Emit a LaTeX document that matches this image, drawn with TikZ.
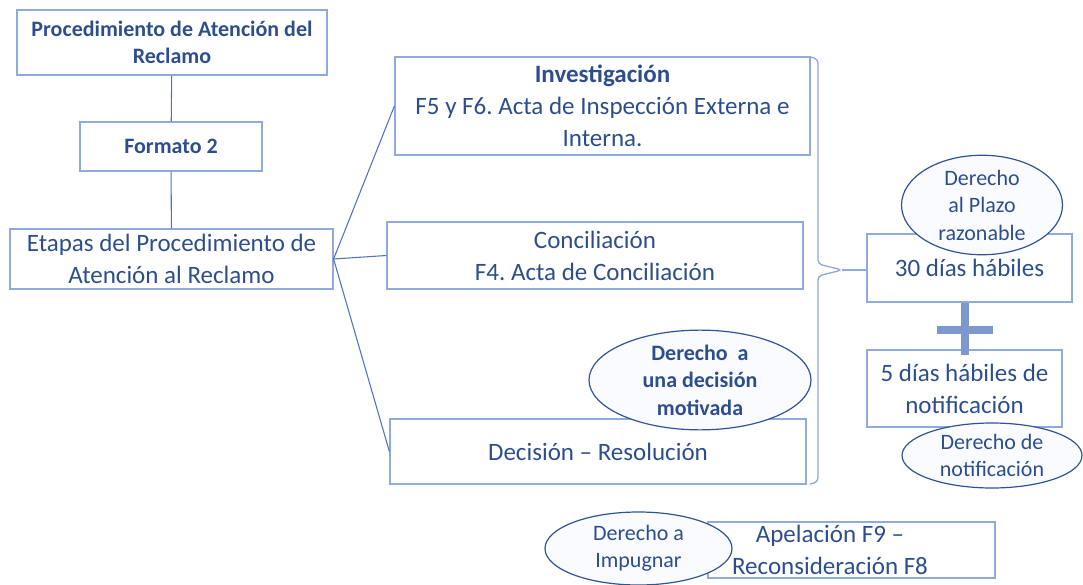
\documentclass[tikz,border=0pt]{standalone}
\usepackage{fontspec}
\setmainfont{Carlito}
\usetikzlibrary{shapes.geometric}
\definecolor{txtblue}{RGB}{45,78,142}
\definecolor{boxblue}{RGB}{143,170,220}
\definecolor{lineblue}{RGB}{80,115,190}
\definecolor{ellblue}{RGB}{47,84,150}
\definecolor{ellfill}{RGB}{250,251,254}
\definecolor{plusblue}{RGB}{125,152,204}
\tikzset{
  box/.style={draw=boxblue, line width=0.9pt, rectangle, inner sep=0pt, align=center, text=txtblue, font=\bigtxt},
  smallbold/.style={font=\smtxt\bfseries},
  ell/.style={draw=ellblue, line width=0.9pt, fill=ellfill, ellipse, inner sep=0pt, align=center, text=txtblue, font=\smtxt},
  conn/.style={draw=lineblue, line width=0.8pt},
  bracestyle/.style={draw=boxblue, line width=1pt, rounded corners=3pt},
}
\newcommand{\bigtxt}{\fontsize{18.75}{24}\selectfont}
\newcommand{\smtxt}{\fontsize{16.5}{20.6}\selectfont}
\frenchspacing
\begin{document}
\begin{tikzpicture}[x=0.75pt,y=-0.75pt]
\useasboundingbox (0,0) rectangle (1083,585);
% boxes
\node[box, smallbold, minimum width=232.5pt, minimum height=48.75pt] (b1) at (172,42.5) {Procedimiento de Atención del\\Reclamo};
\node[box, smallbold, minimum width=136.5pt, minimum height=36.75pt] (f2) at (171,146.5) {Formato 2};
\node[box, minimum width=242.25pt, minimum height=45pt] (et) at (171.5,259) {Etapas del Procedimiento de\\Atención al Reclamo};
\node[box, minimum width=311.25pt, minimum height=73.5pt] (inv) at (602.5,106) {\textbf{Investigación}\\F5 y F6. Acta de Inspección Externa e\\Interna.};
\node[box, minimum width=312pt, minimum height=50.25pt] (con) at (595,255.5) {Conciliación\\F4. Acta de Conciliación};
\node[box, minimum width=312pt, minimum height=48.75pt] (dec) at (598,451.5) {Decisión -- Resolución};
\node[box, minimum width=153.75pt, minimum height=51pt] (d30) at (969.5,268) {30 días hábiles};
\node[box, minimum width=146.25pt, minimum height=57.75pt] (d5) at (964.5,388.5) {5 días hábiles de\\notificación};
\node[box, minimum width=215.25pt, minimum height=42pt] (apel) at (851.5,550) {};
% connectors
\draw[conn] (b1) -- (f2);
\draw[conn] (f2) -- (et);
\draw[conn] (et.east) -- (inv.west);
\draw[conn] (et.east) -- (con.west);
\draw[conn] (et.east) -- (dec.west);
% brace
\coordinate (btop) at (810,57);
\coordinate (bbot) at (810,484);
\coordinate (tip) at (842,270);
\draw[bracestyle] (btop) -- (818,59) -- (818,264) -- (tip) -- (818,276) -- (818,482) -- (bbot);
\draw[conn, draw=boxblue] (tip) -- (d30.west |- tip);
% plus
\draw[draw=plusblue, line width=6pt] (965,303) -- (965,355);
\draw[draw=plusblue, line width=6pt] (937,330) -- (993,330);
% ellipses
\node[ell, font=\smtxt\bfseries, minimum width=166.5pt, minimum height=72.75pt] (e1) at (700,380) {Derecho~ a\\una decisión\\motivada};
\node[ell, minimum width=120.75pt, minimum height=60pt] (e2) at (982,205) {Derecho\\al Plazo\\razonable};
\node[ell, minimum width=135pt, minimum height=48.75pt] (e3) at (992,455.5) {Derecho de\\notificación};
\node[ell, minimum width=140.25pt, minimum height=54.75pt] (e4) at (638.5,548.5) {Derecho a\\Impugnar};
\node[align=center, text=txtblue, font=\bigtxt, inner sep=0pt] (apeltxt) at (830,550) {Apelación F9 --\\Reconsideración F8};
\end{tikzpicture}
\end{document}
